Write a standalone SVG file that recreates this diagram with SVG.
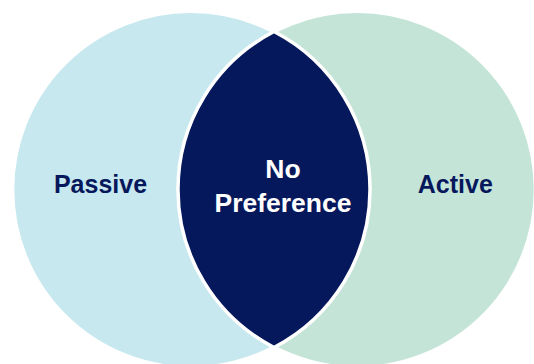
<svg xmlns="http://www.w3.org/2000/svg" width="534" height="364" viewBox="0 0 534 364">
<style>
.lbl{font-family:"Liberation Sans",Arial,sans-serif;font-weight:bold;font-size:25px;text-anchor:middle}
.big{font-size:26.5px}
.dark{fill:#06185C}
.light{fill:#FFFFFF}
</style>
<rect width="534" height="364" fill="#FFFFFF"/>
<g id="passive">
<circle cx="190.8" cy="189.5" r="178" fill="#C8E8EF" stroke="#FFFFFF" stroke-width="3"/>
<text class="lbl dark" x="100.5" y="193.3">Passive</text>
</g>
<g id="active">
<circle cx="357.2" cy="189.5" r="178" fill="#C5E4D8" stroke="#FFFFFF" stroke-width="3"/>
<text class="lbl dark" x="455.3" y="192.7">Active</text>
</g>
<g id="no-preference">
<path d="M274 31.5 A178 178 0 0 1 274 347.5 A178 178 0 0 1 274 31.5 Z" fill="#06185C" stroke="#FFFFFF" stroke-width="3.5"/>
<text class="lbl big light" x="283" y="178.3">No</text>
<text class="lbl big light" x="283" y="211.7">Preference</text>
</g>
<g id="connectors"/>
</svg>
